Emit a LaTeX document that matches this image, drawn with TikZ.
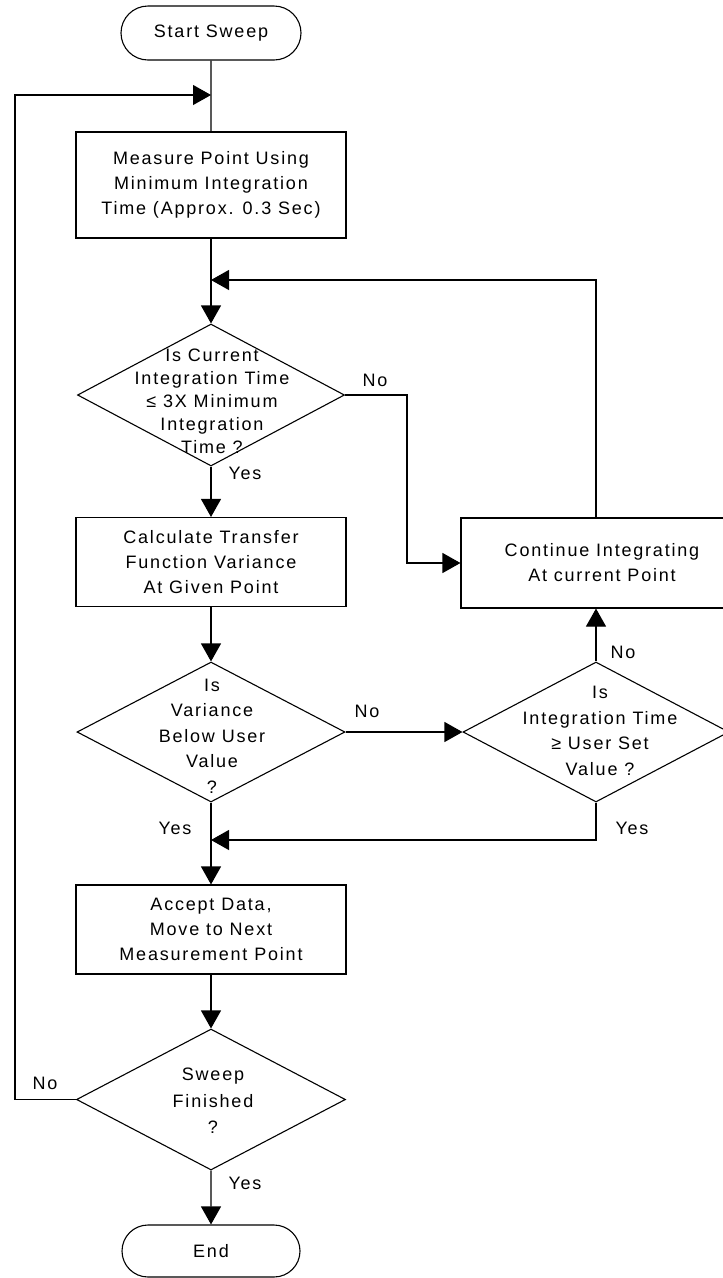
\documentclass[tikz,border=0pt]{standalone}
\usepackage{fontspec}
\setmainfont{Liberation Sans}[LetterSpace=10]
\usetikzlibrary{arrows.meta,shapes.geometric,shapes.misc}
\begin{document}
\begin{tikzpicture}[x=1pt,y=-1pt,line width=1.1pt,
  box/.style={draw,rectangle,inner sep=0pt,align=center,font=\fontsize{18}{25}\selectfont},
  term/.style={draw,rounded rectangle,inner sep=0pt,font=\fontsize{18}{25}\selectfont},
  dia/.style={draw,diamond,inner sep=0pt},
  txt/.style={align=center,inner sep=0pt,font=\fontsize{18}{25.5}\selectfont},
  lbl/.style={inner sep=0pt,font=\fontsize{18}{20}\selectfont},
  arr/.style={-{Triangle[length=18pt,width=20pt]}}]
\useasboundingbox (0,0) rectangle (723,1278);
\clip (0,0) rectangle (723,1278);
% nodes
\node[term,minimum width=180pt,minimum height=54pt] (start) at (211,33) {Start Sweep};
\node[box,minimum width=270pt,minimum height=106pt] (measure) at (211,185) {Measure Point Using\\Minimum Integration\\Time (Approx. 0.3 Sec)};
\node[dia,minimum width=267pt,minimum height=142pt] (d1) at (211,395) {};
\node[txt,font=\fontsize{18}{23}\selectfont] (d1t) at (212,401) {Is Current\\Integration Time\\≤ 3X Minimum\\Integration\\Time ?};
\node[box,minimum width=270pt,minimum height=89pt] (calc) at (211,562) {Calculate Transfer\\Function Variance\\At Given Point};
\node[box,minimum width=282pt,minimum height=90pt] (cont) at (602,563) {Continue Integrating\\At current Point};
\node[dia,minimum width=268pt,minimum height=140pt] (d3) at (211,732) {};
\node[txt] (d3t) at (212,736) {Is\\Variance\\Below User\\Value\\?};
\node[dia,minimum width=266pt,minimum height=140pt] (d2) at (596,732) {};
\node[txt] (d2t) at (600,731) {Is\\Integration Time\\≥ User Set\\Value ?};
\node[box,minimum width=270pt,minimum height=89pt] (accept) at (211,929.5) {Accept Data,\\Move to Next\\Measurement Point};
\node[dia,minimum width=269pt,minimum height=141pt] (d4) at (211,1099.5) {};
\node[txt,font=\fontsize{18}{26.5}\selectfont] (d4t) at (213,1101) {Sweep\\Finished\\?};
\node[term,minimum width=178pt,minimum height=52pt] (end) at (211,1251) {End};
% junctions
\coordinate (j1) at (211,95);
\coordinate (j2) at (211,280);
\coordinate (j3) at (211,840);
\coordinate (lx) at (15,95);
\coordinate (nx) at (407,395);
% connectors
\draw (start) -- (measure);
\draw[arr] (d4.west) -- (d4.west -| lx) -- (lx) -- (j1);
\draw[arr] (measure) -- (d1);
\draw[arr] (cont.north -| d2) -- (j2 -| d2) -- (j2);
\draw[arr] (d1.east) -- (nx) |- (cont.west);
\draw[arr] (d1) -- (calc);
\draw[arr] (calc) -- (d3);
\draw[arr] (d3.east) -- (d2.west);
\draw[arr] (d2.north) -- (cont.south -| d2.north);
\draw[arr] (d2.south) |- (j3);
\draw[arr] (d3) -- (accept);
\draw[arr] (accept) -- (d4);
\draw[arr] (d4) -- (end);
% labels
\node[lbl] (l1) at (375,380) {No};
\node[lbl] (l2) at (245,473) {Yes};
\node[lbl] (l3) at (367,711) {No};
\node[lbl] (l4) at (175,828) {Yes};
\node[lbl] (l5) at (623,652) {No};
\node[lbl] (l6) at (632,828) {Yes};
\node[lbl] (l7) at (45,1083) {No};
\node[lbl] (l8) at (245,1183) {Yes};
\end{tikzpicture}
\end{document}
